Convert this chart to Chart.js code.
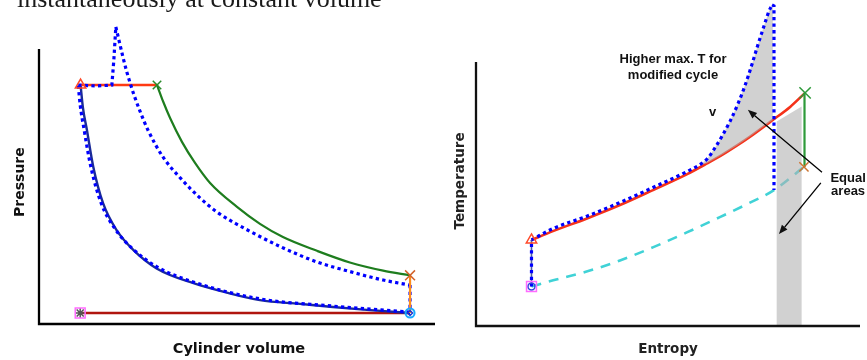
<!DOCTYPE html>
<html>
<head>
<meta charset="utf-8">
<script src="https://cdn.jsdelivr.net/npm/chart.js@4/dist/chart.umd.min.js"></script>
<style>
  html, body { margin: 0; padding: 0; background: #fff; width: 867px; height: 360px; overflow: hidden; }
  #caption { position: absolute; left: 17px; top: -14px; z-index: 2; font: 26px "Liberation Serif", "Times New Roman", serif; line-height: 26px; color: #1a1a1a; white-space: nowrap; }
  #pv { position: absolute; left: 0; top: 0; }
  #ts { position: absolute; left: 440px; top: 0; }
</style>
</head>
<body>
<div id="caption">instantaneously at constant volume</div>
<canvas id="pv" width="440" height="360"></canvas>
<canvas id="ts" width="427" height="360"></canvas>
<script>
// ---------- Pressure / volume diagram (relative units, 0-100) ----------
// [volume, pressure]
const pvCompression = [[93.7,3.5],[82.8,4.5],[74.2,5.4],[65.9,6.4],[55.8,7.6],[47.4,10.0],[39.0,13.0],[29.7,17.7],[23.8,23.6],[19.6,29.9],[16.2,38.4],[13.7,50.1],[12.1,61.8],[11.1,68.8],[10.5,76.1]];
const pvHeatAddition = [[10.5,76.1],[29.8,76.1]];
const pvExpansion = [[29.8,76.1],[31.4,70.7],[33.1,65.6],[36.1,58.0],[39.4,51.3],[43.2,44.9],[50.0,37.3],[55.8,31.9],[61.6,27.7],[70.2,23.3],[78.5,19.6],[86.9,17.0],[93.7,15.5]];
const pvHeatRejection = [[93.7,15.5],[93.7,3.5]];
const pvExhaustIntake = [[10.4,3.5],[93.7,3.5]];

// modified cycle
const pvModCompression = [[93.7,3.8],[74.2,5.7],[55.8,8.0],[38.9,13.4],[29.8,18.2],[23.7,23.9],[19.2,30.3],[15.7,38.5],[13.1,50.0],[11.4,61.8],[10.4,69.8],[9.9,76.1]];
const pvModHeatAddition = [[9.9,76.1],[14.4,75.8],[18.4,76.1],[18.9,84.1],[19.4,94.6]];
const pvModExpansion = [[19.4,94.6],[20.3,89.8],[21.2,85.0],[22.1,80.6],[23.0,76.8],[24.0,72.9],[25.5,67.8],[27.5,61.8],[31.3,53.2],[35.9,46.2],[40.7,40.1],[44.9,35.7],[53.3,29.5],[61.7,24.2],[70.1,19.8],[78.5,16.7],[86.9,14.0],[93.7,12.4]];
const pvModHeatRejection = [[93.7,12.4],[93.7,3.8]];

// state points
const pvStateBDC = [93.7,3.5];
const pvStateTDC = [10.4,3.5];
const pvStateCompressed = [10.5,76.1];
const pvStateCutoff = [29.8,76.1];
const pvStateExpanded = [93.7,15.5];
const pvAxisTop = 87.6;

// ---------- Temperature / entropy diagram (relative units, 0-100) ----------
// [entropy, temperature]
const tsCompression = [[14.45,12.1],[14.45,26.4]];
const tsHeatAddition = [[14.45,26.4],[20.05,29.1],[28.9,33.0],[37.5,37.1],[46.1,41.7],[55.0,46.6],[60.2,49.9],[64.1,52.5],[68.0,55.4],[71.4,58.1],[77.3,63.2],[81.8,67.2],[85.7,71.5]];
const tsExpansion = [[85.55,71.5],[85.55,48.8]];
const tsHeatRejection = [[14.45,12.1],[20.1,14.0],[28.8,16.7],[37.5,20.1],[46.2,24.2],[54.9,28.7],[63.5,33.4],[70.6,37.4],[77.6,41.7],[85.4,48.8]];

// modified cycle
const tsModCompression = [[14.45,12.1],[14.45,26.4]];
const tsModHeatAddition = [[14.45,26.4],[20.05,29.9],[28.9,33.7],[37.5,37.9],[46.1,42.5],[55.0,47.4],[58.3,49.5],[60.4,51.5],[62.2,54.6],[64.1,58.3],[66.2,62.9],[68.2,68.1],[70.1,73.9],[71.9,80.4],[73.4,86.2],[75.0,92.0],[76.3,96.6],[77.1,98.5]];
const tsModExpansion = [[77.1,98.5],[77.6,98.2],[77.6,41.7]];

// shaded equal areas
const tsExtraHeatArea = [[58.3,49.3],[60.4,51.5],[62.2,54.6],[64.1,58.3],[66.2,62.9],[68.2,68.1],[70.1,73.9],[71.9,80.4],[73.4,86.2],[75.0,92.0],[76.3,96.6],[77.3,98.2],[77.3,63.2],[71.4,58.1],[68.0,55.4],[64.1,52.5],[60.2,49.9]];
const tsExtraRejectArea = [[78.3,62.7],[84.8,67.3],[84.8,0],[78.3,0]];

// state points
const tsStateStart = [14.45,12.1];
const tsStateCompressed = [14.45,26.4];
const tsStatePeak = [85.7,71.5];
const tsStateExpanded = [85.4,48.8];
const tsAxisTop = 81;

// ---------- helpers ----------
const pts = arr => arr.map(([x, y]) => ({ x, y }));
const smooth = { tension: 0.4, cubicInterpolationMode: 'monotone' };

function path(label, data, color, width, extra) {
  return Object.assign({
    label, data: pts(data), showLine: true, borderColor: color, borderWidth: width,
    pointRadius: 0, pointHoverRadius: 0, fill: false, tension: 0, clip: false
  }, extra || {});
}
function dotted(label, data, extra) {
  return path(label, data, '#0000ff', 3.2, Object.assign({ borderDash: [3.3, 3.3], borderCapStyle: 'butt' }, extra || {}));
}
function area(label, data, order) {
  return {
    label, data: pts(data), showLine: true, borderWidth: 0, borderColor: 'rgba(0,0,0,0)',
    backgroundColor: 'rgba(178,178,178,0.6)', fill: 'shape', pointRadius: 0, tension: 0, clip: false, order
  };
}
function marker(label, at, style, color, radius, order, extra) {
  return Object.assign({
    label, data: pts([at]), showLine: false, pointStyle: style, pointRadius: radius,
    pointHoverRadius: radius, pointBorderColor: color, pointBackgroundColor: 'rgba(0,0,0,0)',
    pointBorderWidth: 1.5, clip: false, order
  }, extra || {});
}

function arrow(ctx, x0, y0, x1, y1) {
  const ang = Math.atan2(y1 - y0, x1 - x0), L = 9, W = 3.6;
  const bx = x1 - L * Math.cos(ang), by = y1 - L * Math.sin(ang);
  ctx.beginPath(); ctx.moveTo(x0, y0); ctx.lineTo(bx, by); ctx.stroke();
  ctx.beginPath(); ctx.moveTo(x1, y1);
  ctx.lineTo(bx + W * Math.sin(ang), by - W * Math.cos(ang));
  ctx.lineTo(bx - W * Math.sin(ang), by + W * Math.cos(ang));
  ctx.closePath(); ctx.fill();
}

// axis lines, axis titles, notes and arrows
const decor = {
  id: 'decor',
  afterDatasetsDraw(chart, args, o) {
    const { ctx, chartArea: a, scales: { x, y } } = chart;
    ctx.save();
    ctx.strokeStyle = o.axisColor; ctx.lineWidth = 2.3; ctx.lineJoin = 'miter';
    ctx.beginPath();
    ctx.moveTo(a.left, y.getPixelForValue(o.axisTop));
    ctx.lineTo(a.left, a.bottom);
    ctx.lineTo(a.right, a.bottom);
    ctx.stroke();

    ctx.fillStyle = o.titleColor; ctx.textAlign = 'center'; ctx.textBaseline = 'alphabetic';
    ctx.font = o.xTitle.font;
    ctx.fillText(o.xTitle.text, x.getPixelForValue(o.xTitle.at), a.bottom + o.xTitle.gap);
    ctx.save();
    ctx.font = o.yTitle.font;
    ctx.translate(a.left - o.yTitle.gap, y.getPixelForValue(o.yTitle.at));
    ctx.rotate(-Math.PI / 2);
    ctx.fillText(o.yTitle.text, 0, 0);
    ctx.restore();

    ctx.fillStyle = '#111'; ctx.strokeStyle = '#000'; ctx.lineWidth = 1.3;
    (o.notes || []).forEach(n => {
      ctx.font = n.font;
      ctx.fillText(n.text, x.getPixelForValue(n.at[0]), y.getPixelForValue(n.at[1]));
    });
    (o.arrows || []).forEach(r => {
      arrow(ctx, x.getPixelForValue(r.from[0]), y.getPixelForValue(r.from[1]),
                 x.getPixelForValue(r.to[0]), y.getPixelForValue(r.to[1]));
    });
    ctx.restore();
  }
};

const hiddenScales = {
  x: { type: 'linear', display: false, min: 0, max: 100 },
  y: { type: 'linear', display: false, min: 0, max: 100 }
};
const common = {
  responsive: false, animation: false, devicePixelRatio: 1, events: [],
  scales: hiddenScales
};
const noteFont = 'bold 13px "Liberation Sans", Arial, sans-serif';

// ---------- P-V chart ----------
new Chart(document.getElementById('pv'), {
  type: 'line',
  plugins: [decor],
  data: {
    datasets: [
      marker('TDC', pvStateTDC, 'rect', '#ff6cff', 7, 0),
      marker('TDC centre', pvStateTDC, 'star', '#555555', 5, 0),
      marker('BDC', pvStateBDC, 'circle', '#1aa8ff', 4.5, 0, { pointBorderWidth: 2 }),
      marker('BDC centre', pvStateBDC, 'rectRot', '#2233cc', 2.5, 0),
      marker('Compressed', pvStateCompressed, 'triangle', '#ff4a2a', 6, 0),
      marker('Cut-off', pvStateCutoff, 'crossRot', '#2a8a2a', 6, 0),
      marker('Expanded', pvStateExpanded, 'crossRot', '#d2622a', 7, 0),
      path('Heat rejection', pvHeatRejection, '#ff8a1a', 2.2, { order: 1 }),
      dotted('Modified compression', pvModCompression, Object.assign({ order: 2 }, smooth)),
      dotted('Modified heat addition', pvModHeatAddition, { order: 2 }),
      dotted('Modified expansion', pvModExpansion, Object.assign({ order: 2 }, smooth)),
      dotted('Modified heat rejection', pvModHeatRejection, { order: 2 }),
      path('Heat addition', pvHeatAddition, '#ff3a12', 2.6, { order: 3 }),
      path('Expansion', pvExpansion, '#1e7d1e', 2.2, Object.assign({ order: 4 }, smooth)),
      path('Compression', pvCompression, '#1a2a99', 2.4, Object.assign({ order: 5 }, smooth)),
      path('Exhaust and intake', pvExhaustIntake, '#b0150f', 2.6, { order: 6 })
    ]
  },
  options: Object.assign({}, common, {
    layout: { autoPadding: false, padding: { left: 39, right: 5, top: 10, bottom: 36 } },
    plugins: {
      legend: { display: false }, tooltip: { enabled: false },
      decor: {
        axisTop: pvAxisTop, axisColor: '#000', titleColor: '#111',
        xTitle: { text: 'Cylinder volume', at: 50.5, gap: 28.7, font: 'bold 14.5px "DejaVu Sans", Verdana, sans-serif' },
        yTitle: { text: 'Pressure', at: 45.2, gap: 15, font: 'bold 14px "DejaVu Sans", Verdana, sans-serif' }
      }
    }
  })
});

// ---------- T-s chart ----------
new Chart(document.getElementById('ts'), {
  type: 'line',
  plugins: [decor],
  data: {
    datasets: [
      marker('Start', tsStateStart, 'rect', '#ff6cff', 7, 0),
      marker('Start centre', tsStateStart, 'circle', '#3344e0', 3.5, 0),
      marker('Compressed', tsStateCompressed, 'triangle', '#ff4a2a', 6, 0),
      marker('Peak', tsStatePeak, 'crossRot', '#2e9a3a', 8, 0),
      marker('Expanded', tsStateExpanded, 'crossRot', '#cc7430', 6.5, 0),
      path('Expansion', tsExpansion, '#2e9a3a', 2.2, { order: 1 }),
      dotted('Modified compression', tsModCompression, { order: 2 }),
      dotted('Modified heat addition', tsModHeatAddition, Object.assign({ order: 2 }, smooth)),
      dotted('Modified expansion', tsModExpansion, { order: 2 }),
      area('Extra heat added', tsExtraHeatArea, 3),
      area('Extra heat rejected', tsExtraRejectArea, 3),
      path('Heat rejection', tsHeatRejection, '#40d2d6', 2.6, Object.assign({ order: 4, borderDash: [10, 8] }, smooth)),
      path('Heat addition', tsHeatAddition, '#f5321a', 2.6, Object.assign({ order: 5 }, smooth)),
      path('Compression', tsCompression, '#5060a0', 1.6, { order: 6 })
    ]
  },
  options: Object.assign({}, common, {
    layout: { autoPadding: false, padding: { left: 36, right: 7, top: 0, bottom: 34 } },
    plugins: {
      legend: { display: false }, tooltip: { enabled: false },
      decor: {
        axisTop: tsAxisTop, axisColor: '#111', titleColor: '#222',
        xTitle: { text: 'Entropy', at: 50, gap: 26.7, font: 'bold 13.5px "DejaVu Sans", Verdana, sans-serif' },
        yTitle: { text: 'Temperature', at: 44.5, gap: 12, font: 'bold 13.5px "DejaVu Sans", Verdana, sans-serif' },
        notes: [
          { text: 'Higher max. T for', at: [51.3, 80.6], font: noteFont },
          { text: 'modified cycle', at: [51.3, 75.8], font: noteFont },
          { text: 'v', at: [61.6, 64.4], font: noteFont },
          { text: 'Equal', at: [96.9, 44.3], font: noteFont },
          { text: 'areas', at: [96.9, 40.2], font: noteFont }
        ],
        arrows: [
          { from: [90.1, 47.2], to: [70.8, 66.3] },
          { from: [89.8, 43.9], to: [78.9, 28.2] }
        ]
      }
    }
  })
});
</script>
</body>
</html>
